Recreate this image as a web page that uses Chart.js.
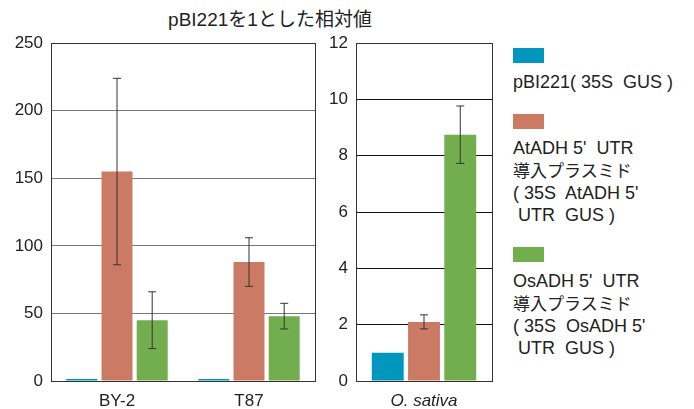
<!DOCTYPE html>
<html>
<head>
<meta charset="utf-8">
<script src="https://cdn.jsdelivr.net/npm/chart.js@4"></script>
<style>
    body { margin: 0; background: #fff; width: 694px; height: 409px; position: relative; overflow: hidden;
        font-family: "Liberation Sans", "Noto Sans CJK JP", sans-serif; color: #222; }
    #title { position: absolute; left: 130px; top: 4px; width: 280px; text-align: center; font-size: 19px; }
    #wrap1 { position: absolute; left: 0; top: 25px; width: 320px; height: 384px; }
    #wrap2 { position: absolute; left: 320px; top: 25px; width: 180px; height: 384px; }
    #legend { position: absolute; left: 513px; top: 48px; font-size: 18px; line-height: 22px; }
    .sw { width: 31px; height: 15px; }
    .txt { margin-top: 8px; margin-bottom: 21px; white-space: pre; }
    .jp { font-family: "Noto Sans CJK JP"; font-size: 17px; }
</style>
</head>
<body>
<div id="title">pBI221を1とした相対値</div>
<div id="wrap1"><canvas id="c1"></canvas></div>
<div id="wrap2"><canvas id="c2"></canvas></div>
<div id="legend"></div>
<script>
    // --- Datos ---
    const seriesNames = ['pBI221( 35S  GUS )', 'AtADH 5\'  UTR\n<span class="jp">導入プラスミド</span>\n( 35S  AtADH 5\'\n UTR  GUS )', 'OsADH 5\'  UTR\n<span class="jp">導入プラスミド</span>\n( 35S  OsADH 5\'\n UTR  GUS )'];
    const seriesColors = ['#0096BE', '#CB7A64', '#72AE4E'];

    const leftCategories = ['BY-2', 'T87'];
    const leftBlue = [1, 1];
    const leftRed = [155, 88];
    const leftGreen = [45, 48];
    const leftRedErr = [69, 18];
    const leftGreenErr = [21, 9.5];
    const leftTicks = [0, 50, 100, 150, 200, 250];

    const rightCategories = ['O. sativa'];
    const rightBlue = [1];
    const rightRed = [2.1];
    const rightGreen = [8.75];
    const rightRedErr = [0.25];
    const rightGreenErr = [1.02];
    const rightTicks = [0, 2, 4, 6, 8, 10, 12];

    // --- Leyenda ---
    const legendDiv = document.getElementById('legend');
    seriesNames.forEach((name, i) => {
        legendDiv.innerHTML += `<div class="sw" style="background:${seriesColors[i]}"></div><div class="txt">${name}</div>`;
    });

    // barras de error y marco
    const errorBarPlugin = {
        id: 'errorBars',
        afterDatasetsDraw(chart) {
            const ctx = chart.ctx;
            const yScale = chart.scales.y;
            chart.data.datasets.forEach((ds, di) => {
                if (!ds.errors) return;
                const meta = chart.getDatasetMeta(di);
                meta.data.forEach((bar, i) => {
                    const v = ds.data[i], e = ds.errors[i];
                    const top = yScale.getPixelForValue(v + e);
                    const bot = yScale.getPixelForValue(v - e);
                    ctx.save();
                    ctx.strokeStyle = '#333';
                    ctx.lineWidth = 1;
                    ctx.beginPath();
                    ctx.moveTo(bar.x, top); ctx.lineTo(bar.x, bot);
                    ctx.moveTo(bar.x - 4, top); ctx.lineTo(bar.x + 4, top);
                    ctx.moveTo(bar.x - 4, bot); ctx.lineTo(bar.x + 4, bot);
                    ctx.stroke();
                    ctx.restore();
                });
            });
            const a = chart.chartArea;
            ctx.save();
            ctx.strokeStyle = '#333';
            ctx.lineWidth = 1;
            ctx.strokeRect(Math.round(a.left) + 0.5, Math.round(a.top) + 0.5, Math.round(a.right - a.left), Math.round(a.bottom - a.top));
            ctx.restore();
        }
    };

    function makeChart(id, labels, blue, red, green, redErr, greenErr, ticks, yAxisWidth, rightPad, gridColor, italic) {
        const mk = (data, i, errors) => ({
            data, errors, backgroundColor: seriesColors[i],
            categoryPercentage: 0.8, barPercentage: 0.88, minBarLength: 2
        });
        return new Chart(document.getElementById(id), {
            type: 'bar',
            data: {
                labels,
                datasets: [mk(blue, 0), mk(red, 1, redErr), mk(green, 2, greenErr)]
            },
            options: {
                responsive: true,
                maintainAspectRatio: false,
                animation: false,
                layout: { padding: { top: 5, right: rightPad, bottom: 0, left: 0 } },
                plugins: { legend: { display: false }, tooltip: { enabled: false } },
                scales: {
                    x: {
                        grid: { display: false },
                        border: { display: false },
                        ticks: { color: '#222', padding: 2, font: { family: 'Liberation Sans', size: 17, style: italic ? 'italic' : 'normal' } },
                        afterFit: (s) => { s.height = 28; }
                    },
                    y: {
                        min: ticks[0],
                        max: ticks[ticks.length - 1],
                        afterBuildTicks: (s) => { s.ticks = ticks.map(v => ({ value: v })); },
                        grid: { color: gridColor, drawTicks: false },
                        border: { display: false },
                        ticks: { color: '#222', padding: 8, font: { family: 'Liberation Sans', size: 17 } },
                        afterFit: (s) => { s.width = yAxisWidth; }
                    }
                }
            },
            plugins: [errorBarPlugin]
        });
    }

    makeChart('c1', leftCategories, leftBlue, leftRed, leftGreen, leftRedErr, leftGreenErr, leftTicks, 51, 5, '#777', false);
    makeChart('c2', rightCategories, rightBlue, rightRed, rightGreen, rightRedErr, rightGreenErr, rightTicks, 36, 8, '#111', true);
</script>
</body>
</html>
